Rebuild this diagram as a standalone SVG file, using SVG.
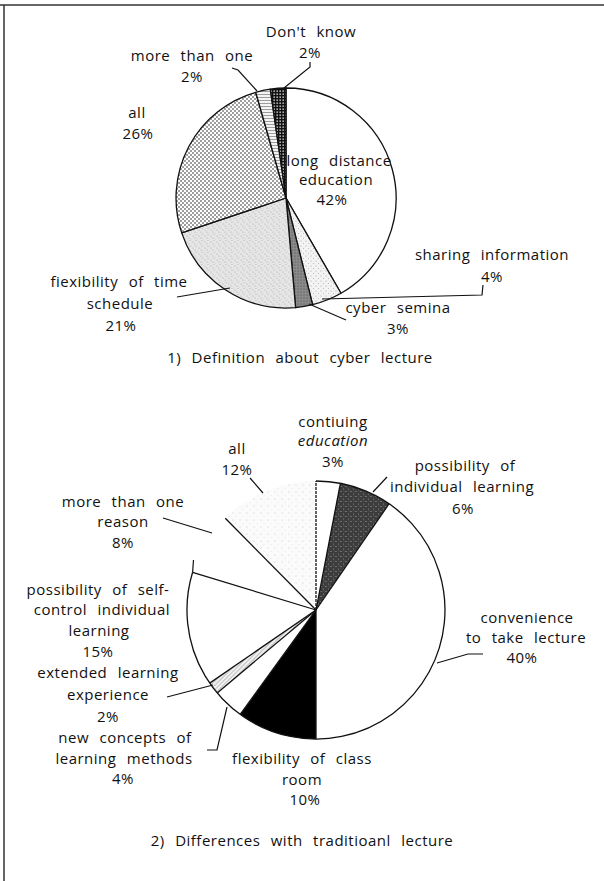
<svg xmlns="http://www.w3.org/2000/svg" width="604" height="881" viewBox="0 0 604 881">
<style>
.t{font-family:"Open Sans","Noto Sans",sans-serif;font-size:15px;letter-spacing:.5px;word-spacing:6px;text-anchor:middle;fill:#111}
.i{font-style:italic}
.sl{stroke:#111;stroke-width:1.3;stroke-linejoin:round}
.nf{fill:none}
.ld{fill:none;stroke:#111;stroke-width:1.2}
.fr{stroke:#333;stroke-width:1.5;fill:none}
</style>
<defs>
<pattern id="pAll" width="4" height="4" patternUnits="userSpaceOnUse">
<rect width="4" height="4" fill="#fff"/>
<circle cx="1" cy="1" r="0.8" fill="#222"/>
<circle cx="3" cy="3" r="0.8" fill="#222"/>
</pattern>
<pattern id="pFlex" width="6" height="6" patternUnits="userSpaceOnUse">
<rect width="6" height="6" fill="#e6e6e6"/>
<circle cx="1" cy="2" r="0.5" fill="#999"/>
<circle cx="4" cy="0.5" r="0.5" fill="#aaa"/>
<circle cx="3" cy="4" r="0.5" fill="#999"/>
<circle cx="5.5" cy="5" r="0.4" fill="#bbb"/>
</pattern>
<pattern id="pShare" width="5" height="5" patternUnits="userSpaceOnUse">
<rect width="5" height="5" fill="#f3f3f3"/>
<circle cx="1" cy="1" r="0.5" fill="#999"/>
<circle cx="3.5" cy="3.5" r="0.5" fill="#aaa"/>
</pattern>
<pattern id="pCyber" width="3" height="3" patternUnits="userSpaceOnUse">
<rect width="3" height="3" fill="#8a8a8a"/>
<circle cx="1" cy="1" r="0.6" fill="#444"/>
</pattern>
<pattern id="pMore" width="4" height="3" patternUnits="userSpaceOnUse">
<rect width="4" height="3" fill="#f4f4f4"/>
<line x1="0" y1="1.5" x2="4" y2="1.5" stroke="#777" stroke-width="0.7"/>
</pattern>
<pattern id="pDont" width="3" height="3" patternUnits="userSpaceOnUse">
<rect width="3" height="3" fill="#111"/>
<rect x="0.5" y="0.5" width="1.3" height="1.3" fill="#fff"/>
</pattern>
<pattern id="pInd" width="5" height="5" patternUnits="userSpaceOnUse">
<rect width="5" height="5" fill="#3c3c3c"/>
<circle cx="1" cy="1.5" r="0.6" fill="#aaa"/>
<circle cx="3.5" cy="4" r="0.5" fill="#999"/>
<circle cx="4" cy="1" r="0.4" fill="#777"/>
</pattern>
<pattern id="pExt" width="3" height="3" patternUnits="userSpaceOnUse" patternTransform="rotate(45)">
<rect width="3" height="3" fill="#f0f0f0"/>
<line x1="0" y1="0" x2="0" y2="3" stroke="#777" stroke-width="0.8"/>
</pattern>
<pattern id="pAll2" width="7" height="7" patternUnits="userSpaceOnUse">
<rect width="7" height="7" fill="#fbfbfb"/>
<circle cx="2" cy="2" r="0.5" fill="#bbb"/>
<circle cx="5" cy="5.5" r="0.4" fill="#ccc"/>
</pattern>
</defs>

<g id="frame">
<line class="fr" x1="0" y1="5" x2="604" y2="5"/>
<line class="fr" x1="4" y1="5" x2="4" y2="881"/>
</g>

<!-- Chart 1 -->
<g id="pie1">
<path id="s1-long" class="sl" fill="#fff" d="M286,198 L286,88 A110,110 0 0 1 341,293.3 Z"/>
<path id="s1-share" class="sl" fill="url(#pShare)" d="M286,198 L341,293.3 A110,110 0 0 1 312.6,304.7 Z"/>
<path id="s1-cyber" class="sl" fill="url(#pCyber)" d="M286,198 L312.6,304.7 A110,110 0 0 1 295.6,307.6 Z"/>
<path id="s1-flex" class="sl" fill="url(#pFlex)" d="M286,198 L295.6,307.6 A110,110 0 0 1 181.7,232.9 Z"/>
<path id="s1-all" class="sl" fill="url(#pAll)" d="M286,198 L181.7,232.9 A110,110 0 0 1 255.7,92.3 Z"/>
<path id="s1-more" class="sl" fill="url(#pMore)" d="M286,198 L255.7,92.3 A110,110 0 0 1 270.3,89.1 Z"/>
<path id="s1-dont" class="sl" fill="url(#pDont)" d="M286,198 L270.3,89.1 A110,110 0 0 1 286,88 Z"/>
</g>
<g id="connectors1">
<polyline class="ld" points="310,62 310,67 284,88"/>
<polyline class="ld" points="232,68 238,70 257,91"/>
<polyline class="ld" points="322,299 482,295 483,285"/>
<line class="ld" x1="309" y1="304" x2="346" y2="320"/>
<line class="ld" x1="177" y1="297" x2="230" y2="288"/>
</g>
<g id="labels1">
<g id="l-dont"><text class="t" x="311" y="37">Don't know</text><text class="t" x="310" y="58">2%</text></g>
<g id="l-more1"><text class="t" x="192" y="61">more than one</text><text class="t" x="192" y="82">2%</text></g>
<g id="l-all1"><text class="t" x="137" y="118">all</text><text class="t" x="138" y="139">26%</text></g>
<g id="l-long"><text class="t" x="339" y="166">long distance</text><text class="t" x="336" y="185">education</text><text class="t" x="332" y="205">42%</text></g>
<g id="l-share"><text class="t" x="492" y="260">sharing information</text><text class="t" x="492" y="282">4%</text></g>
<g id="l-cyber"><text class="t" x="398" y="313">cyber semina</text><text class="t" x="398" y="334">3%</text></g>
<g id="l-flex1"><text class="t" x="119" y="287">fiexibility of time</text><text class="t" x="120" y="309">schedule</text><text class="t" x="121" y="331">21%</text></g>
<text class="t" x="300" y="363">1) Definition about cyber lecture</text>
</g>

<!-- Chart 2 -->
<g id="pie2">
<path id="s2-cont" fill="#fff" d="M316,610 L316,481 A129,129 0 0 1 340.4,483.3 Z"/>
<path id="s2-ind" fill="url(#pInd)" d="M316,610 L340.4,483.3 A129,129 0 0 1 389.1,503.7 Z"/>
<path id="s2-conv" fill="#fff" d="M316,610 L389.1,503.7 A129,129 0 0 1 316,739 Z"/>
<path id="s2-flex" fill="#000" d="M316,610 L316,739 A129,129 0 0 1 240.2,714.4 Z"/>
<path id="s2-newc" fill="#fff" d="M316,610 L240.2,714.4 A129,129 0 0 1 217.2,692.9 Z"/>
<path id="s2-ext" fill="url(#pExt)" d="M316,610 L217.2,692.9 A129,129 0 0 1 209.7,683.1 Z"/>
<path id="s2-self" fill="#fff" d="M316,610 L209.7,683.1 A129,129 0 0 1 192.6,572.3 Z"/>
<path id="s2-more" fill="#fff" d="M316,610 L192.6,572.3 A129,129 0 0 1 225.3,518.3 Z"/>
<path id="s2-all" fill="url(#pAll2)" d="M316,610 L225.3,518.3 A129,129 0 0 1 316,481 Z"/>
<path class="sl nf" d="M316,481 A129,129 0 1 1 192.6,572.3"/>
<g class="sl">
<line x1="316" y1="610" x2="316" y2="481" stroke-dasharray="3 1"/>
<line x1="316" y1="610" x2="340.4" y2="483.3"/>
<line x1="316" y1="610" x2="389.1" y2="503.7"/>
<line x1="316" y1="610" x2="316" y2="739"/>
<line x1="316" y1="610" x2="240.2" y2="714.4"/>
<line x1="316" y1="610" x2="217.2" y2="692.9"/>
<line x1="316" y1="610" x2="209.7" y2="683.1"/>
<line x1="316" y1="610" x2="192.6" y2="572.3"/>
<line x1="316" y1="610" x2="225.3" y2="518.3"/>
</g>
</g>
<g id="connectors2">
<line class="ld" x1="192.6" y1="572.3" x2="193.5" y2="560"/>
<line class="ld" x1="250" y1="478" x2="263" y2="493"/>
<line class="ld" x1="163" y1="518" x2="212" y2="533"/>
<line class="ld" x1="373" y1="492" x2="387" y2="477"/>
<polyline class="ld" points="437,663 468,654 483,654"/>
<polyline class="ld" points="227,707 217,750 207,750"/>
<line class="ld" x1="167" y1="697" x2="213" y2="685"/>
</g>
<g id="labels2">
<g id="l-cont"><text class="t" x="333" y="427">contiuing</text><text class="t i" x="333" y="446">education</text><text class="t" x="333" y="467">3%</text></g>
<g id="l-all2"><text class="t" x="237" y="454">all</text><text class="t" x="237" y="475">12%</text></g>
<g id="l-ind"><text class="t" x="465" y="471">possibility of</text><text class="t" x="462" y="492">individual learning</text><text class="t" x="463" y="514">6%</text></g>
<g id="l-more2"><text class="t" x="123" y="507">more than one</text><text class="t" x="123" y="527">reason</text><text class="t" x="123" y="548">8%</text></g>
<g id="l-self"><text class="t" x="98" y="595">possibility of self-</text><text class="t" x="102" y="615">control individual</text><text class="t" x="99" y="636">learning</text><text class="t" x="98" y="657">15%</text></g>
<g id="l-conv"><text class="t" x="527" y="623">convenience</text><text class="t" x="526" y="643">to take lecture</text><text class="t" x="522" y="663">40%</text></g>
<g id="l-ext"><text class="t" x="108" y="678">extended learning</text><text class="t" x="108" y="700">experience</text><text class="t" x="108" y="722">2%</text></g>
<g id="l-newc"><text class="t" x="125" y="743">new concepts of</text><text class="t" x="124" y="764">learning methods</text><text class="t" x="123" y="784">4%</text></g>
<g id="l-flex2"><text class="t" x="302" y="764">flexibility of class</text><text class="t" x="302" y="785">room</text><text class="t" x="305" y="805">10%</text></g>
<text class="t" x="302" y="846">2) Differences with traditioanl lecture</text>
</g>
</svg>
